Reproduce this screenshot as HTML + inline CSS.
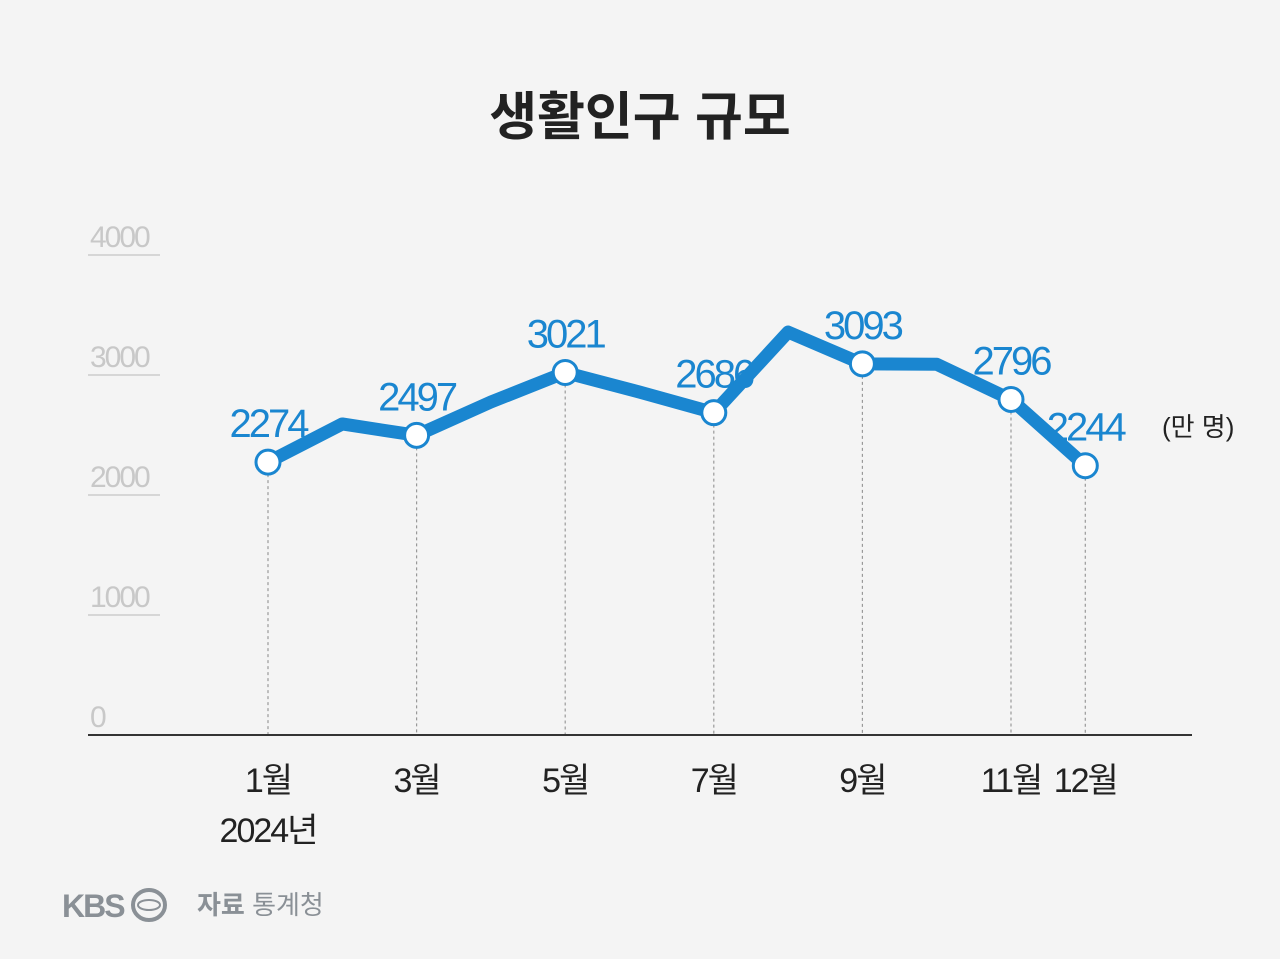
<!DOCTYPE html>
<html><head><meta charset="utf-8"><style>
body{margin:0;background:#f4f4f4;}
svg{display:block;font-family:"Liberation Sans","Noto Sans CJK KR",sans-serif;}
</style></head><body>
<svg id="chart" width="1280" height="959" viewBox="0 0 1280 959">
<rect width="1280" height="959" fill="#f4f4f4"/>
<text x="640" y="135" text-anchor="middle" font-size="52" font-weight="bold" fill="#222">생활인구 규모</text>
<g id="yaxis"></g>
<g id="guides"></g>
<line x1="88" y1="735" x2="1192" y2="735" stroke="#333" stroke-width="2"/>
<g id="xaxis"></g>
<g id="series"></g>
<text x="1162" y="436" font-size="26" fill="#222">(만 명)</text>
<text x="268" y="842" text-anchor="middle" font-size="34" fill="#222" letter-spacing="-2">2024년</text>
<g>
<text x="62" y="917" font-size="32" font-weight="bold" fill="#8a9096" letter-spacing="-2">KBS</text>
<ellipse cx="149" cy="905" rx="16" ry="15" fill="none" stroke="#8a9096" stroke-width="4"/>
<ellipse cx="149" cy="905" rx="11" ry="5" fill="none" stroke="#8a9096" stroke-width="2"/>
</g>
<text x="197" y="914" font-size="26" fill="#8a9096"><tspan font-weight="bold">자료</tspan> 통계청</text>
</svg>
<script>
const months=[1,2,3,4,5,6,7,8,9,10,11,12];
const values=[2274,2592,2497,2775,3021,2858,2686,3358,3093,3090,2796,2244];
const labeledMonths=[1,3,5,7,9,11,12];
const xLabels=["1월","3월","5월","7월","9월","11월","12월"];
const yTicks=[0,1000,2000,3000,4000];
const NS="http://www.w3.org/2000/svg";
const x=m=>268+(m-1)*74.3;
const y=v=>735-v*0.12;
function mk(tag,attrs,parent){const e=document.createElementNS(NS,tag);for(const k in attrs)e.setAttribute(k,attrs[k]);parent.appendChild(e);return e;}
const ya=document.getElementById('yaxis');
yTicks.forEach(t=>{
  if(t>0){const l=mk('line',{x1:88,x2:160,y1:y(t),y2:y(t),stroke:'#ccc','stroke-width':1.5},ya);
  
  }
  const tx=mk('text',{x:90,y:y(t)-8,'font-size':30,fill:'#c8c8c8','letter-spacing':-2},ya);
  tx.textContent=t;
  
  
});
const g=document.getElementById('guides');
const xa=document.getElementById('xaxis');
labeledMonths.forEach((m,i)=>{
  const v=values[months.indexOf(m)];
  const l=mk('line',{x1:x(m),x2:x(m),y1:y(v),y2:735,stroke:'#999','stroke-width':1.2,'stroke-dasharray':'3,3'},g);
  
  
  const t=mk('text',{x:x(m),y:792,'text-anchor':'middle','font-size':34,fill:'#222','letter-spacing':-2},xa);
  t.textContent=xLabels[i];
  
  
});
const s=document.getElementById('series');
const p=mk('polyline',{points:months.map((m,i)=>x(m)+','+y(values[i])).join(' '),fill:'none',stroke:'#1a86d0','stroke-width':13,'stroke-linejoin':'round','stroke-linecap':'round'},s);


labeledMonths.forEach(m=>{
  const v=values[months.indexOf(m)];
  const c=mk('circle',{cx:x(m),cy:y(v),r:12,fill:'#fff',stroke:'#1a86d0','stroke-width':3},s);
  
  
  const t=mk('text',{x:x(m),y:y(v)-25,'text-anchor':'middle','font-size':40,fill:'#1a86d0','letter-spacing':-3},s);
  t.textContent=v;
  
  
});
</script>
</body></html>
